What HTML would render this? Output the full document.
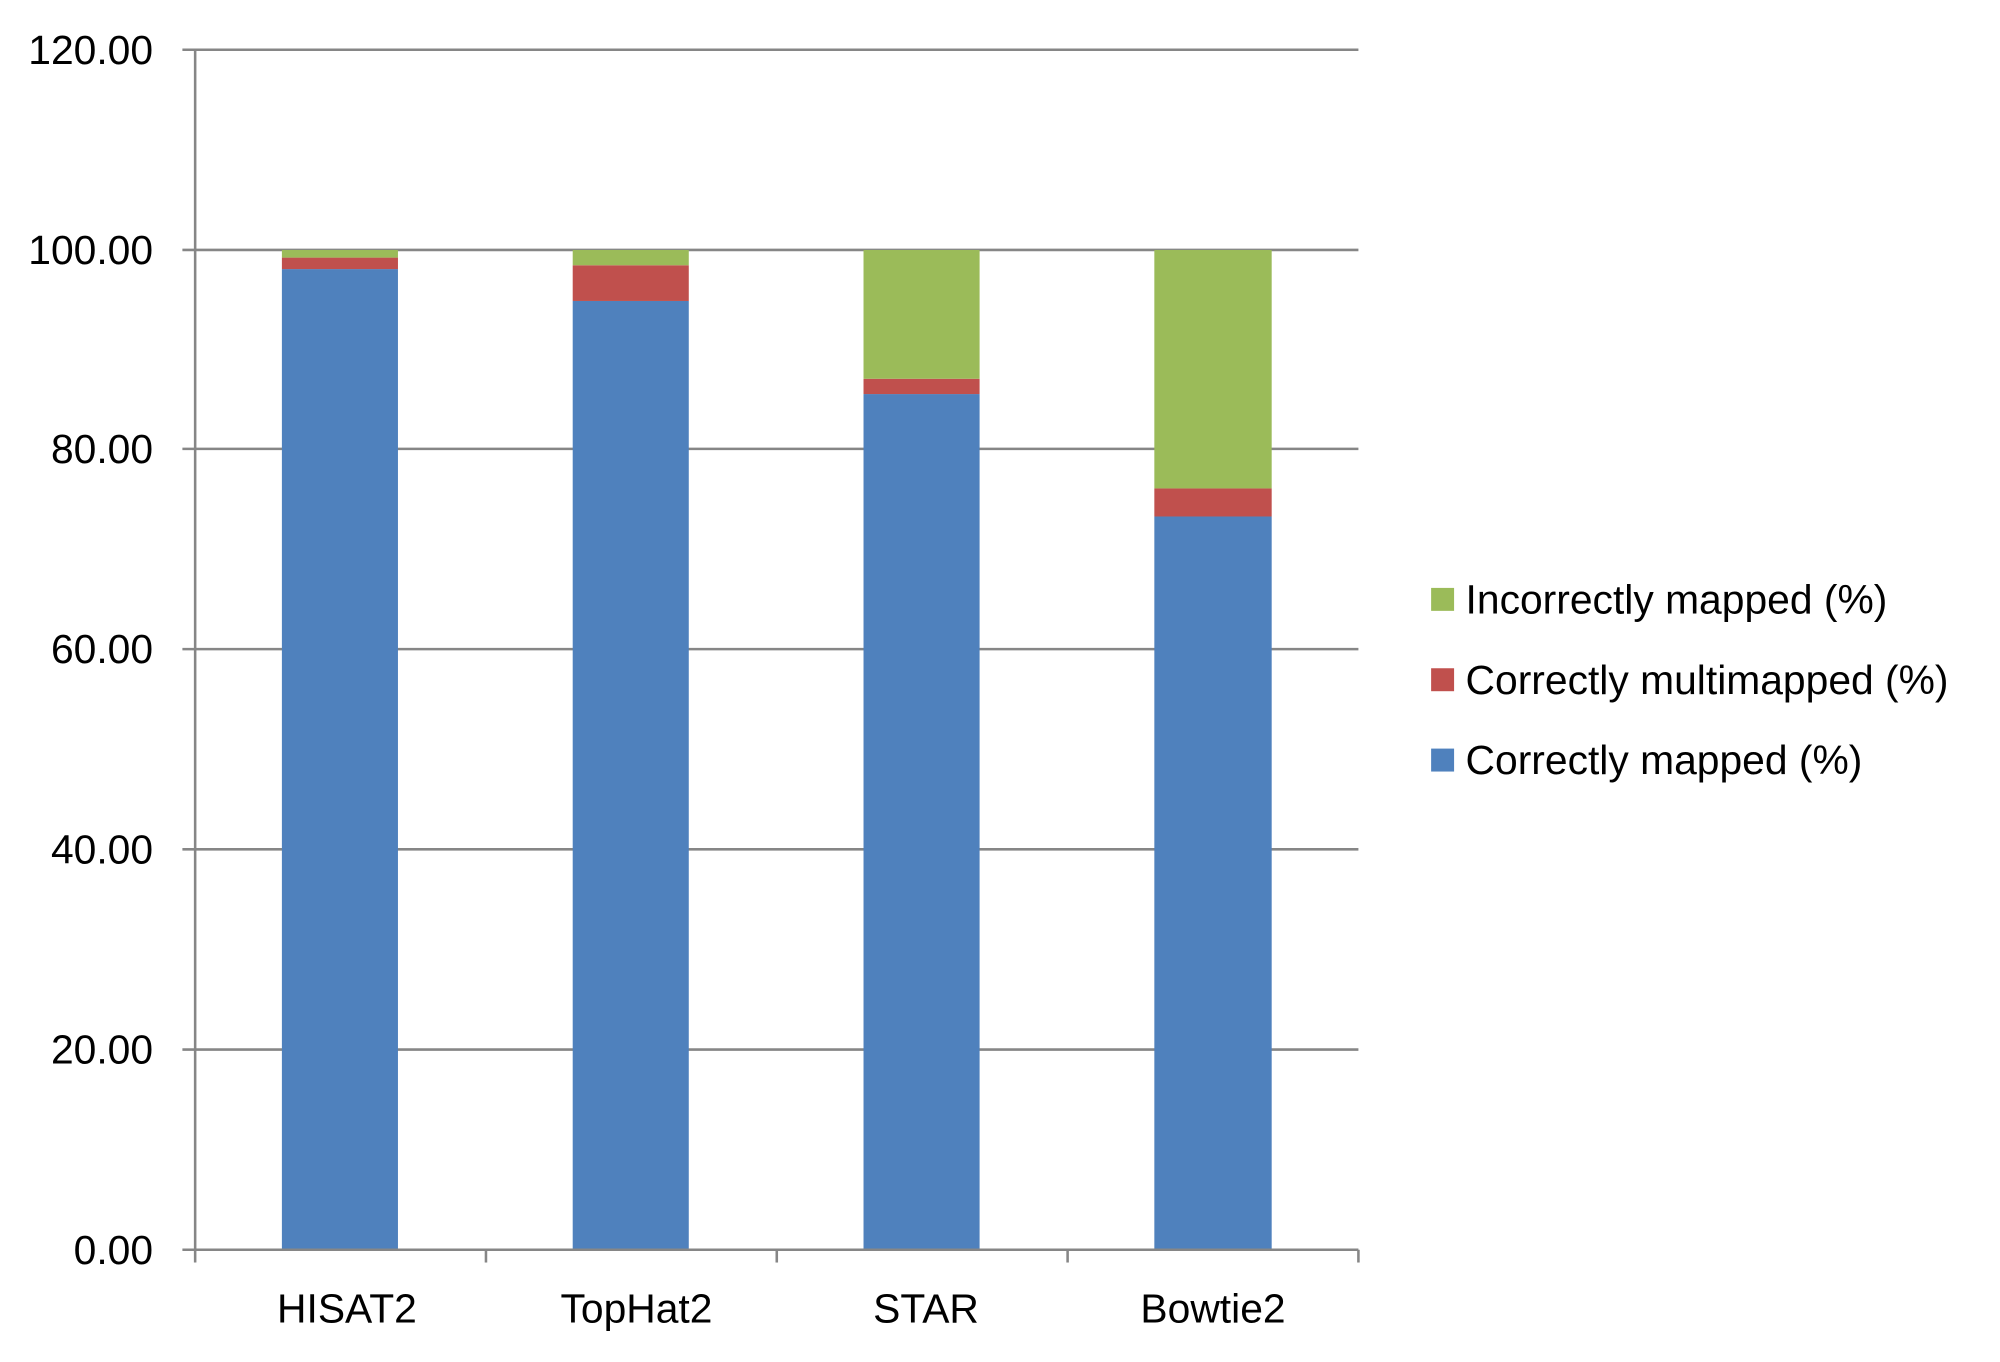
<!DOCTYPE html>
<html><head><meta charset="utf-8"><style>html,body{margin:0;padding:0;background:#fff}svg{display:block}</style></head>
<body>
<svg width="2000" height="1362" viewBox="0 0 1568 1068" preserveAspectRatio="none" xmlns="http://www.w3.org/2000/svg" font-family="Liberation Sans, Arial, sans-serif">
<rect width="1568" height="1068" fill="#fff"/>
<g stroke="#868686" stroke-width="2">
<line x1="143" y1="39" x2="1065" y2="39"/>
<line x1="143" y1="196" x2="1065" y2="196"/>
<line x1="143" y1="352" x2="1065" y2="352"/>
<line x1="143" y1="509" x2="1065" y2="509"/>
<line x1="143" y1="666" x2="1065" y2="666"/>
<line x1="143" y1="823" x2="1065" y2="823"/>
</g>
<g fill="#4f81bd">
<rect x="221" y="211" width="91" height="769"/>
<rect x="449" y="236" width="91" height="744"/>
<rect x="677" y="309" width="91" height="671"/>
<rect x="905" y="405" width="92" height="575"/>
</g>
<g fill="#c0504d">
<rect x="221" y="202" width="91" height="9"/>
<rect x="449" y="208" width="91" height="28"/>
<rect x="677" y="297" width="91" height="12"/>
<rect x="905" y="383" width="92" height="22"/>
</g>
<g fill="#9bbb59">
<rect x="221" y="196" width="91" height="6"/>
<rect x="449" y="196" width="91" height="12"/>
<rect x="677" y="196" width="91" height="101"/>
<rect x="905" y="196" width="92" height="187"/>
</g>
<g stroke="#868686" stroke-width="2">
<line x1="153" y1="39" x2="153" y2="990"/>
<line x1="143" y1="980" x2="1065" y2="980"/>
<line x1="381" y1="980" x2="381" y2="990"/>
<line x1="609" y1="980" x2="609" y2="990"/>
<line x1="837" y1="980" x2="837" y2="990"/>
<line x1="1065" y1="980" x2="1065" y2="990"/>
</g>
<g font-size="32" fill="#000" text-anchor="end">
<text x="120" y="50">120.00</text>
<text x="120" y="207">100.00</text>
<text x="120" y="363">80.00</text>
<text x="120" y="520">60.00</text>
<text x="120" y="677">40.00</text>
<text x="120" y="834">20.00</text>
<text x="120" y="991">0.00</text>
</g>
<g font-size="32" fill="#000" text-anchor="middle">
<text x="272" y="1037">HISAT2</text>
<text x="499" y="1037">TopHat2</text>
<text x="726" y="1037">STAR</text>
<text x="951" y="1037">Bowtie2</text>
</g>
<rect x="1122" y="461" width="18" height="18" fill="#9bbb59"/>
<rect x="1122" y="524" width="18" height="18" fill="#c0504d"/>
<rect x="1122" y="587" width="18" height="18" fill="#4f81bd"/>
<g font-size="32" fill="#000">
<text x="1149" y="481">Incorrectly mapped (%)</text>
<text x="1149" y="544">Correctly multimapped (%)</text>
<text x="1149" y="607">Correctly mapped (%)</text>
</g>
</svg>
</body></html>
